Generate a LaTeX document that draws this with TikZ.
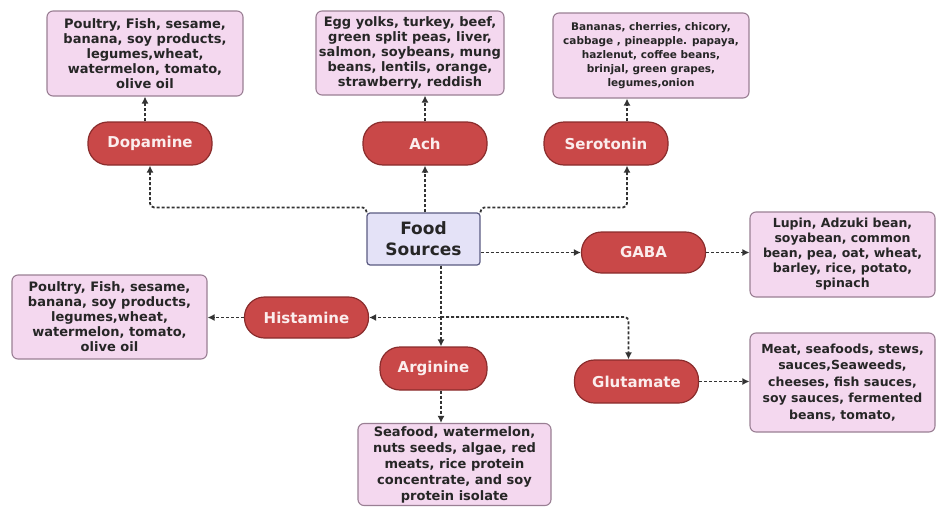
\documentclass[tikz,border=0pt]{standalone}
\usepackage{fontspec}
\setmainfont{DejaVu Sans}
\usetikzlibrary{arrows.meta}
\definecolor{pillred}{HTML}{C94848}
\definecolor{pilledge}{HTML}{8A2C2C}
\definecolor{pilltext}{HTML}{FBEDED}
\definecolor{boxpink}{HTML}{F4D8EF}
\definecolor{boxedge}{HTML}{9A7F94}
\definecolor{srcfill}{HTML}{E4E2F7}
\definecolor{srcedge}{HTML}{5B5B82}
\definecolor{linkgray}{HTML}{333333}
\tikzset{
  pill/.style={draw=pilledge, line width=1.2pt, fill=pillred, text=pilltext,
    rounded corners=20pt, minimum width=124pt, minimum height=43pt,
    inner sep=0pt, font=\bfseries\fontsize{15}{18}\selectfont},
  foodbox/.style={draw=boxedge, line width=1.1pt, fill=boxpink, text=black!85,
    rounded corners=6pt, inner sep=0pt, align=center,
    font=\bfseries\fontsize{13}{15}\selectfont},
  source/.style={draw=srcedge, line width=1.2pt, fill=srcfill, text=black!85,
    rounded corners=3pt, minimum width=113pt, minimum height=52pt,
    inner sep=0pt, align=center, font=\bfseries\fontsize{17}{21}\selectfont},
  link/.style={draw=linkgray, line width=1.8pt, dash pattern=on 3pt off 2pt,
    rounded corners=4pt, -{Latex[length=7pt,width=7pt]}}
}
\begin{document}
\begin{tikzpicture}[x=1pt,y=-1pt]
  \useasboundingbox (0,0) rectangle (936,506);
  % centre
  \node[source] (fs) at (423.5,239) {Food\\Sources};
  % transmitters
  \node[pill] (dop)  at (150,143.5)   {Dopamine};
  \node[pill] (ach)  at (425,143.5)   {Ach};
  \node[pill] (sero) at (606,143.5)   {Serotonin};
  \node[pill] (gaba) at (643.5,252.5) [minimum height=41pt] {GABA};
  \node[pill] (hist) at (306.5,317.5) [minimum height=41pt] {Histamine};
  \node[pill] (arg)  at (433.5,368.5) [minimum width=107pt] {Arginine};
  \node[pill] (glut) at (636.5,381.5) {Glutamate};
  % food lists
  \node[foodbox, minimum width=196pt, minimum height=85pt] (dopbox) at (145,53.5)
    {Poultry, Fish, sesame,\\banana, soy products,\\legumes,wheat,\\watermelon, tomato,\\olive oil};
  \node[foodbox, minimum width=188pt, minimum height=84pt] (achbox) at (410,53)
    {Egg yolks, turkey, beef,\\green split peas, liver,\\salmon, soybeans, mung\\beans, lentils, orange,\\strawberry, reddish};
  \node[foodbox, minimum width=196pt, minimum height=85pt,
    font=\bfseries\fontsize{10.5}{14}\selectfont] (serobox) at (651,55.5)
    {Bananas, cherries, chicory,\\cabbage , pineapple. papaya,\\hazlenut, coffee beans,\\brinjal, green grapes,\\legumes,onion};
  \node[foodbox, minimum width=185pt, minimum height=85pt,
    font=\bfseries\fontsize{12.5}{15}\selectfont] (gababox) at (842.5,254.5)
    {Lupin, Adzuki bean,\\soyabean, common\\bean, pea, oat, wheat,\\barley, rice, potato,\\spinach};
  \node[foodbox, minimum width=195pt, minimum height=84pt] (histbox) at (109.5,317)
    {Poultry, Fish, sesame,\\banana, soy products,\\legumes,wheat,\\watermelon, tomato,\\olive oil};
  \node[foodbox, minimum width=185pt, minimum height=99pt,
    font=\bfseries\fontsize{12.5}{16.5}\selectfont] (glutbox) at (842.5,382.5)
    {Meat, seafoods, stews,\\sauces,Seaweeds,\\cheeses, fish sauces,\\soy sauces, fermented\\beans, tomato,};
  \node[foodbox, minimum width=193pt, minimum height=82pt,
    font=\bfseries\fontsize{13}{16}\selectfont] (argbox) at (454.5,464.5)
    {Seafood, watermelon,\\nuts seeds, algae, red\\meats, rice protein\\concentrate, and soy\\protein isolate};
  \coordinate (split) at (441,317);
  \begin{scope}[link]
    \draw (fs.north west) -- ++(0,-5) -| (dop.south);
    \draw (fs.north -| ach) -- (ach.south);
    \draw (fs.north east) -- ++(0,-5) -| ([xshift=21pt]sero.south);
    \draw (fs.east |- gaba) -- (gaba.west);
    \draw (gaba.east) -- (gaba.east -| gababox.west);
    \draw[-] (fs.south -| split) -- (split);
    \draw (split) -- (split |- arg.north);
    \draw (split |- hist) -- (hist.east);
    \draw (split) -| ([xshift=-8pt]glut.north);
    \draw (hist.west) -- (hist.west -| histbox.east);
    \draw (glut.east) -- (glut.east -| glutbox.west);
    \draw (split |- arg.south) -- (split |- argbox.north);
    \draw (dop.north -| dopbox) -- (dopbox.south);
    \draw (ach.north) -- (ach.north |- achbox.south);
    \draw ([xshift=21pt]sero.north) -- ([xshift=21pt]sero.north |- serobox.south);
  \end{scope}
\end{tikzpicture}
\end{document}
